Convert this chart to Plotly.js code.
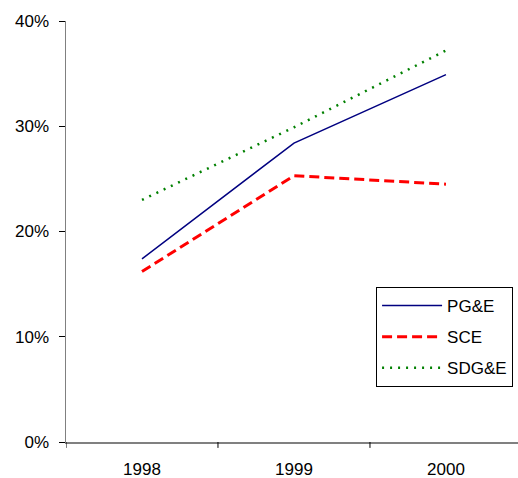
<!DOCTYPE html>
<html><head><meta charset="utf-8">
<script src="https://cdn.plot.ly/plotly-3.0.1.min.js"></script>
<style>body{margin:0;background:#fff}#c{width:518px;height:478px}</style>
</head><body><div id="c"></div>
<script>
const years = ["1998", "1999", "2000"];
const pge = [0.174, 0.284, 0.349];
const sce = [0.162, 0.253, 0.245];
const sdge = [0.230, 0.299, 0.372];
const yTicks = [0, 0.1, 0.2, 0.3, 0.4];
const yTickLabels = ["0%", "10%", "20%", "30%", "40%"];

const traces = [
  {x: years, y: pge, name: "PG&E", legendgroup: "a", mode: "lines", line: {color: "#000080", width: 1.5}},
  {x: years, y: sce, name: "SCE", legendgroup: "b", mode: "lines", line: {color: "#ff0000", width: 3, dash: "10px,5px"}},
  {x: years, y: sdge, name: "SDG&E", legendgroup: "c", mode: "lines", line: {color: "#008000", width: 2.5, dash: "2px,6px"}}
];
const layout = {
  width: 518, height: 478,
  margin: {l: 66, r: 0, t: 21, b: 36},
  paper_bgcolor: "#fff", plot_bgcolor: "#fff",
  font: {family: "Liberation Sans, Arial, sans-serif", size: 17, color: "#000"},
  showlegend: true,
  legend: {x: 0.686, y: 0.368, xanchor: "left", yanchor: "top", bordercolor: "#000", borderwidth: 1,
           bgcolor: "#fff", font: {size: 17}, itemwidth: 60, traceorder: "grouped", tracegroupgap: 6},
  xaxis: {type: "category", range: [-0.5, 2.474], showgrid: false, zeroline: false,
          showline: true, linecolor: "#808080", linewidth: 1.5, ticks: "", ticklabelstandoff: 11, fixedrange: true},
  yaxis: {range: [0, 0.4], tickvals: yTicks, ticktext: yTickLabels, showgrid: false, zeroline: false,
          showline: true, linecolor: "#808080", linewidth: 1.5, ticks: "outside", ticklen: 6,
          tickcolor: "#000", tickwidth: 1, ticklabelstandoff: 6}
};
Plotly.newPlot("c", traces, layout, {staticPlot: true}).then(function(){
  const shapes = [];
  [-0.5, 0.5, 1.5].forEach(function(v){
    shapes.push({type: "line", xref: "x", yref: "paper", x0: v, x1: v, y0: 0, y1: -0.014,
                 line: {color: "#000", width: 1}});
  });
  Plotly.relayout("c", {shapes: shapes});
});
</script>
</body></html>
